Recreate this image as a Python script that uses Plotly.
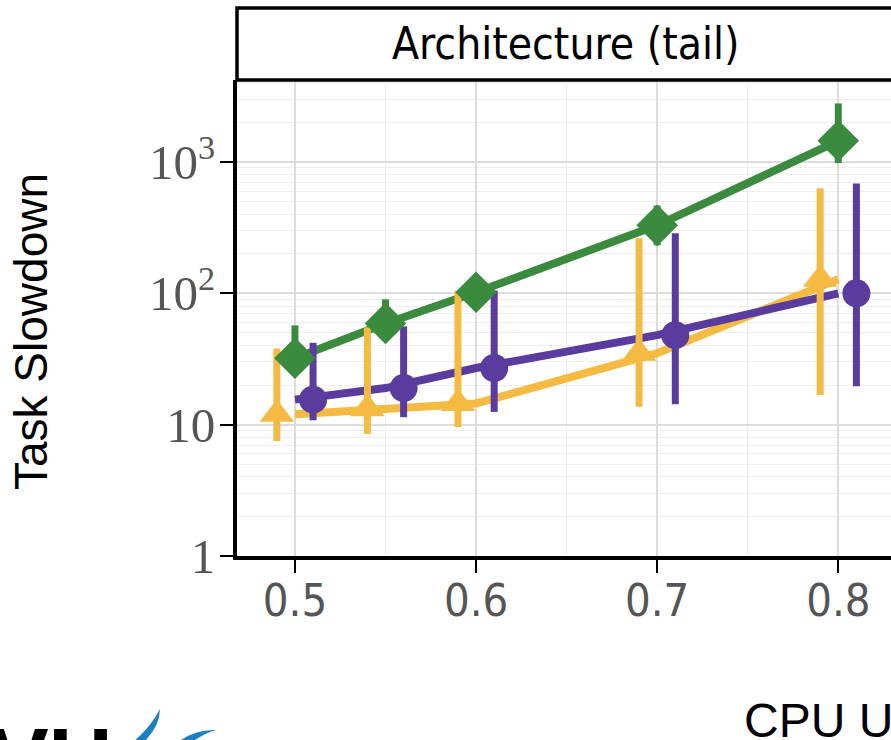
import plotly.graph_objects as go

# ---------------- data ----------------
utilization = [0.5, 0.55, 0.6, 0.7, 0.8]

green_y = [32, 59, 102, 329, 1450]
green_hi = [57, 90, 125, 466, 2790]
green_lo = [24, 45, 85, 232, 980]

yellow_y = [12, 13.2, 14.5, 35, 128]
yellow_hi = [38, 55, 105, 263, 630]
yellow_lo = [7.5, 8.5, 9.6, 13.7, 16.8]

purple_y = [15.5, 19, 27, 48, 100]
purple_hi = [42, 56, 105, 286, 686]
purple_lo = [10.8, 11.4, 12.5, 14.3, 19.6]

y_tickvals = [1, 10, 100, 1000]
y_ticktext = ["1", "10", "10<sup>2</sup>", "10<sup>3</sup>"]
x_tickvals = [0.5, 0.6, 0.7, 0.8]
x_ticktext = ["0.5", "0.6", "0.7", "0.8"]

panel_title = "Architecture (tail)"
y_title = "Task Slowdown"
x_title = "CPU Utilization"

GREEN = "#3a8b3e"
YELLOW = "#f5ba42"
PURPLE = "#5a3c9e"

W, H = 891, 740
L, R, T, B = 237, 0, 80, 184
PW, PH = W - L - R, H - T - B


def px(x):
    return (x - L) / PW


def py(y):
    return (H - B - y) / PH


fig = go.Figure()

series = [
    (yellow_y, yellow_hi, yellow_lo, YELLOW, "triangle-up", 30, -0.01),
    (purple_y, purple_hi, purple_lo, PURPLE, "circle", 28, 0.01),
    (green_y, green_hi, green_lo, GREEN, "diamond", 32, 0.0),
]

for ys, hi, lo, col, sym, sz, dodge in series:
    fig.add_trace(go.Scatter(
        x=utilization, y=ys, mode="lines",
        line=dict(color=col, width=8), showlegend=False, hoverinfo="skip"))

for ys, hi, lo, col, sym, sz, dodge in series:
    xs = [u + dodge for u in utilization]
    fig.add_trace(go.Scatter(
        x=xs, y=ys, mode="markers",
        marker=dict(color=col, symbol=sym, size=sz, line=dict(width=0)),
        error_y=dict(type="data", symmetric=False,
                     array=[h - v for h, v in zip(hi, ys)],
                     arrayminus=[v - l for l, v in zip(lo, ys)],
                     color=col, thickness=7, width=0),
        showlegend=False))

minor_y = [k * 10 ** d for d in range(0, 4) for k in range(2, 10)]

fig.update_layout(
    width=W, height=H,
    margin=dict(l=L, r=R, t=T, b=B, pad=0, autoexpand=False),
    paper_bgcolor="white", plot_bgcolor="white",
    xaxis=dict(
        range=[0.4680, 0.8291], automargin=False,
        tickvals=x_tickvals, ticktext=x_ticktext,
        tickfont=dict(family="DejaVu Sans Condensed, DejaVu Sans", size=45, color="#555555"),
        ticks="outside", ticklen=13, tickwidth=2, tickcolor="black",
        showline=True, linecolor="black", linewidth=4,
        showgrid=True, gridcolor="#dcdcdc", gridwidth=1.5,
        minor=dict(tickvals=[0.55, 0.65, 0.75], showgrid=True, gridcolor="#ececec", gridwidth=1.2),
        zeroline=False, ticklabelstandoff=-11,
    ),
    yaxis=dict(
        type="log", range=[0, 3.624], automargin=False,
        tickvals=y_tickvals, ticktext=y_ticktext,
        tickfont=dict(family="Liberation Serif, DejaVu Serif", size=49, color="#555555"),
        ticks="outside", ticklen=13, tickwidth=2, tickcolor="black",
        showline=True, linecolor="black", linewidth=4,
        showgrid=True, gridcolor="#dcdcdc", gridwidth=1.5,
        minor=dict(tickvals=minor_y, showgrid=True, gridcolor="#eeeeee", gridwidth=1.2),
        zeroline=False, ticklabelstandoff=-5,
    ),
    shapes=[
        dict(type="rect", xref="paper", yref="paper",
             x0=0, x1=1.05, y0=1, y1=py(8),
             line=dict(color="black", width=3.5), fillcolor="white", layer="above"),
        # logo feathers
        dict(type="path", xref="paper", yref="paper",
             path=f"M {px(160)},{py(709)} Q {px(150)},{py(728)} {px(133)},{py(742)} "
                  f"L {px(144)},{py(742)} Q {px(160)},{py(726)} {px(160)},{py(709)} Z",
             fillcolor="#1c7fc4", line=dict(width=0)),
        dict(type="path", xref="paper", yref="paper",
             path=f"M {px(216)},{py(730)} Q {px(196)},{py(729)} {px(178)},{py(742)} "
                  f"L {px(192)},{py(742)} Q {px(205)},{py(733)} {px(216)},{py(730)} Z",
             fillcolor="#1c7fc4", line=dict(width=0)),
    ],
    annotations=[
        dict(text=panel_title, xref="paper", yref="paper",
             x=px(565), y=py(43), xanchor="center", yanchor="middle", showarrow=False,
             font=dict(family="DejaVu Sans Condensed, DejaVu Sans", size=44, color="black")),
        dict(text=y_title, xref="paper", yref="paper",
             x=px(31), y=py(332), xanchor="center", yanchor="middle", showarrow=False,
             textangle=-90,
             font=dict(family="Liberation Sans, Arial", size=46, color="black")),
        dict(text=x_title, xref="paper", yref="paper",
             x=px(742), y=py(720), xanchor="left", yanchor="middle", showarrow=False,
             font=dict(family="Liberation Sans, Arial", size=48, color="black")),
        dict(text="<b>VU</b>", xref="paper", yref="paper",
             x=px(-12), y=py(707), xanchor="left", yanchor="top", showarrow=False,
             font=dict(family="Liberation Sans, Arial", size=88, color="black")),
    ],
)

fig.write_html("out.html", config={"displayModeBar": False},
               post_script="document.body.style.margin='0';")
